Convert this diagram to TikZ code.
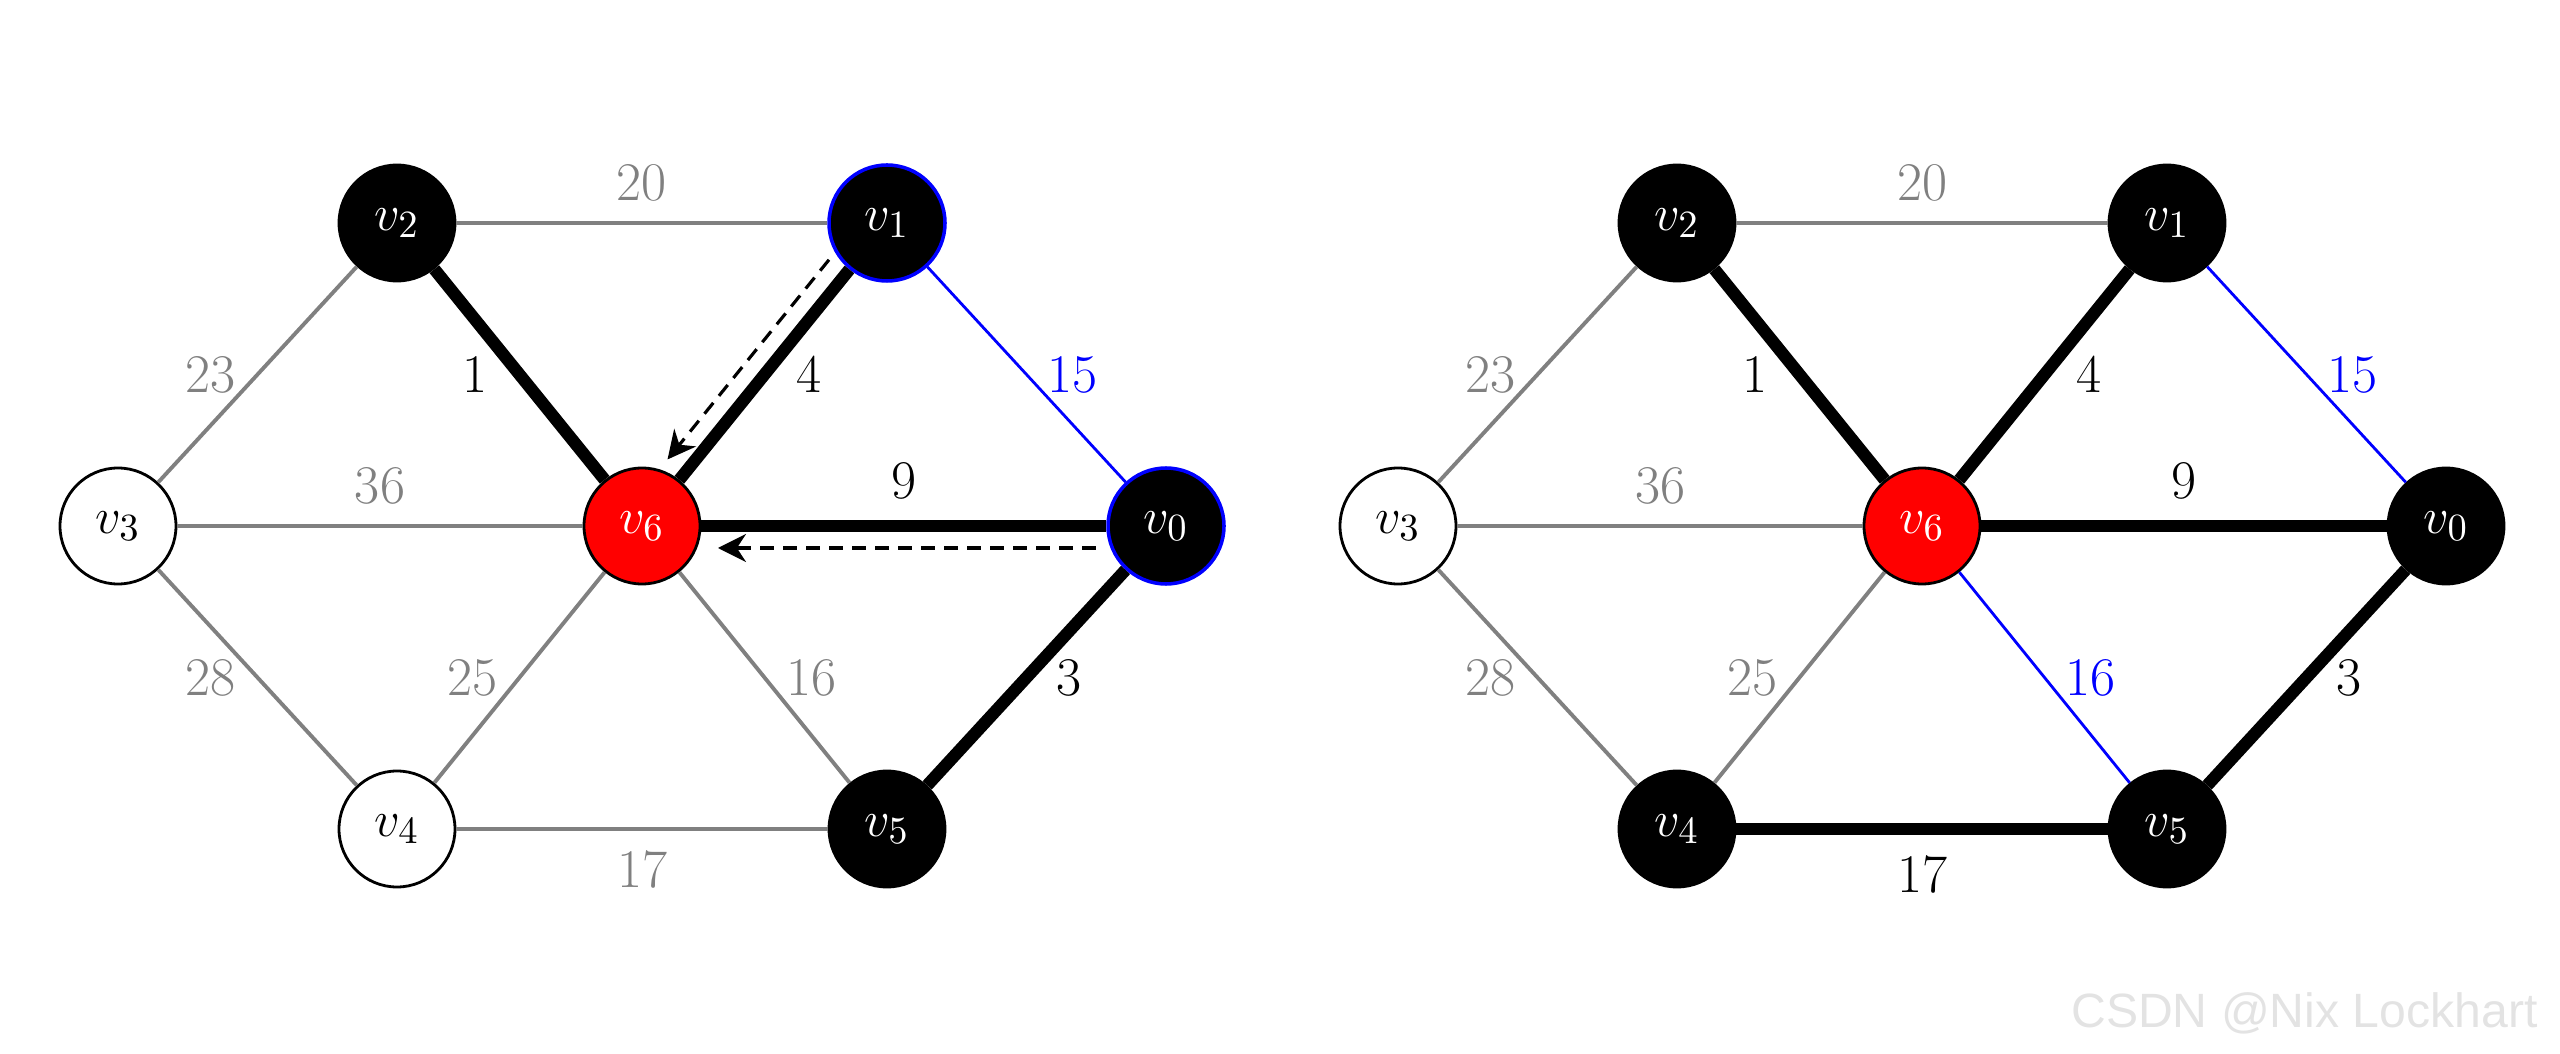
\documentclass[tikz,border=0pt]{standalone}
\usepackage{fontspec}
\newfontfamily\markfont{Liberation Sans}
\usetikzlibrary{arrows.meta}
\usetikzlibrary{calc}

\begin{document}
\begin{tikzpicture}[
        vert/.style={circle, draw=black, line width=0.8pt,
          minimum size=1.16cm, inner sep=0pt,
          font=\fontsize{15.5}{18}\selectfont},
        seen/.style={vert, fill=black, text=white},
        todo/.style={vert, fill=white, text=black},
        cur/.style={vert, fill=red, text=white},
        front/.style={seen, draw=blue, line width=1pt},
        idle/.style={draw=gray, line width=1.1pt},
        tree/.style={draw=black, line width=3.5pt},
        cand/.style={draw=blue, line width=0.8pt},
        wt/.style={font=\fontsize{15.5}{18}\selectfont, text=gray, inner sep=2mm},
        wtk/.style={wt, text=black},
        wtb/.style={wt, text=blue},
        back/.style={-{Stealth[length=2.8mm, width=2.8mm]}, line width=0.9pt,
          dash pattern=on 1.4mm off 0.9mm},
      ]
      \useasboundingbox (0,0) rectangle (25.6,10.53);

      % Left: v6 picked, updating v1 and v0
      \node[cur]   (a6) at (6.42,5.27)  {$v_6$};
      \node[front] (a1) at (8.87,8.30)  {$v_1$};
      \node[seen]  (a2) at (3.97,8.30)  {$v_2$};
      \node[todo]  (a3) at (1.18,5.27)  {$v_3$};
      \node[front] (a0) at (11.66,5.27) {$v_0$};
      \node[todo]  (a4) at (3.97,2.24)  {$v_4$};
      \node[seen]  (a5) at (8.87,2.24)  {$v_5$};

      \draw[idle] (a2) -- node[above, wt] {20} (a1);
      \draw[idle] (a3) -- node[left, wt] {23} (a2);
      \draw[tree] (a2) -- node[left, wtk, inner sep=2.6mm] {1} (a6);
      \draw[tree] (a6) -- node[right, wtk, inner sep=2.6mm] {4} (a1);
      \draw[cand] (a1) -- node[right, wtb] {15} (a0);
      \draw[idle] (a3) -- node[above, wt] {36} (a6);
      \draw[tree] (a6) -- node[above, wtk] {9} (a0);
      \draw[idle] (a3) -- node[left, wt] {28} (a4);
      \draw[idle] (a6) -- node[left, wt] {25} (a4);
      \draw[idle] (a6) -- node[right, wt] {16} (a5);
      \draw[tree] (a0) -- node[right, wtk, inner sep=2.4mm] {3} (a5);
      \draw[idle] (a4) -- node[below, wt] {17} (a5);

      % back pointers
      \draw[back] ($(a1)!0.167!(a6)!2.2mm!-90:(a6)$) -- ($(a1)!0.826!(a6)!2.2mm!-90:(a6)$);
      \draw[back] ($(a0)!0.134!(a6)!2.2mm!90:(a6)$) -- ($(a0)!0.855!(a6)!2.2mm!90:(a6)$);

      % Right: after adding v4
      \begin{scope}[xshift=12.8cm]
      \node[cur]  (b6) at (6.42,5.27)  {$v_6$};
      \node[seen] (b1) at (8.87,8.30)  {$v_1$};
      \node[seen] (b2) at (3.97,8.30)  {$v_2$};
      \node[todo] (b3) at (1.18,5.27)  {$v_3$};
      \node[seen] (b0) at (11.66,5.27) {$v_0$};
      \node[seen] (b4) at (3.97,2.24)  {$v_4$};
      \node[seen] (b5) at (8.87,2.24)  {$v_5$};

      \draw[idle] (b2) -- node[above, wt] {20} (b1);
      \draw[idle] (b3) -- node[left, wt] {23} (b2);
      \draw[tree] (b2) -- node[left, wtk, inner sep=2.6mm] {1} (b6);
      \draw[tree] (b6) -- node[right, wtk, inner sep=2.6mm] {4} (b1);
      \draw[cand] (b1) -- node[right, wtb] {15} (b0);
      \draw[idle] (b3) -- node[above, wt] {36} (b6);
      \draw[tree] (b6) -- node[above, wtk] {9} (b0);
      \draw[idle] (b3) -- node[left, wt] {28} (b4);
      \draw[idle] (b6) -- node[left, wt] {25} (b4);
      \draw[cand] (b6) -- node[right, wtb] {16} (b5);
      \draw[tree] (b0) -- node[right, wtk, inner sep=2.4mm] {3} (b5);
      \draw[tree] (b4) -- node[below, wtk] {17} (b5);
      \end{scope}

      \node[anchor=base east, text=black!11,
        font=\markfont\fontsize{13.7}{16}\selectfont] (mark) at (25.5,0.26) {CSDN @Nix Lockhart};

      \end{tikzpicture}
\end{document}
